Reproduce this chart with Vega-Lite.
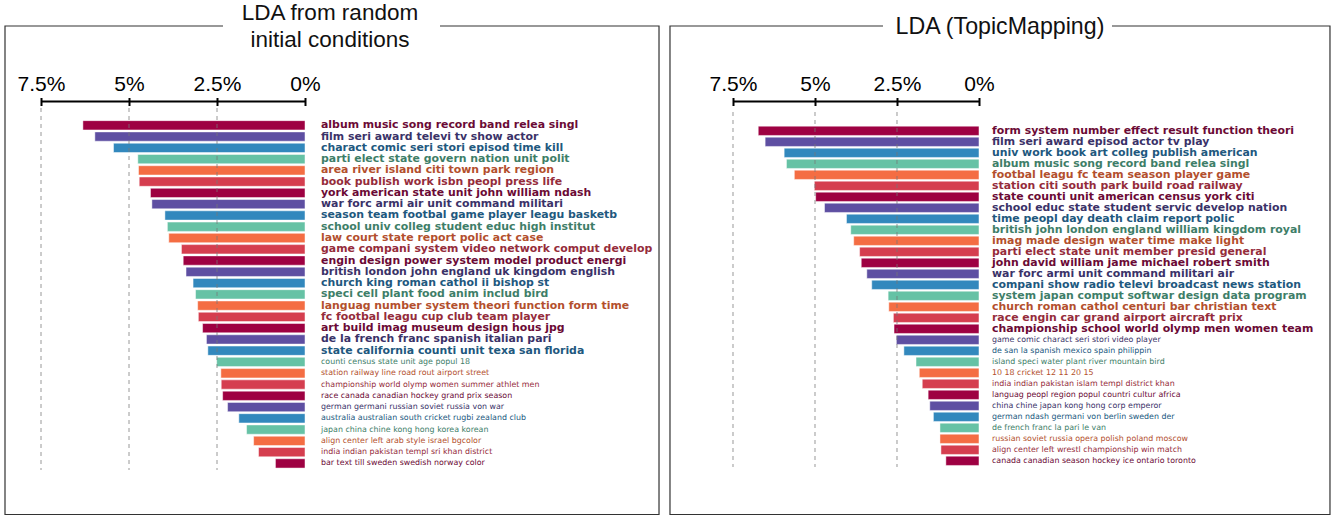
{
  "$schema": "https://vega.github.io/schema/vega-lite/v6.json",
  "padding": 0,
  "autosize": {"type": "pad"},
  "background": "white",
  "spacing": 0,
  "config": {"view": {"stroke": null}, "font": "DejaVu Sans", "scale": {"continuousPadding": 0}},
  "datasets": {
    "left": [
      {"rank": 1, "label": "album music song record band relea singl", "share": 6.31},
      {"rank": 2, "label": "film seri award televi tv show actor", "share": 5.97},
      {"rank": 3, "label": "charact comic seri stori episod time kill", "share": 5.44},
      {"rank": 4, "label": "parti elect state govern nation unit polit", "share": 4.75},
      {"rank": 5, "label": "area river island citi town park region", "share": 4.73},
      {"rank": 6, "label": "book publish work isbn peopl press life", "share": 4.71},
      {"rank": 7, "label": "york american state unit john william ndash", "share": 4.39},
      {"rank": 8, "label": "war forc armi air unit command militari", "share": 4.35},
      {"rank": 9, "label": "season team footbal game player leagu basketb", "share": 3.98},
      {"rank": 10, "label": "school univ colleg student educ high institut", "share": 3.91},
      {"rank": 11, "label": "law court state report polic act case", "share": 3.87},
      {"rank": 12, "label": "game compani system video network comput develop", "share": 3.51},
      {"rank": 13, "label": "engin design power system model product energi", "share": 3.46},
      {"rank": 14, "label": "british london john england uk kingdom english", "share": 3.38},
      {"rank": 15, "label": "church king roman cathol ii bishop st", "share": 3.18},
      {"rank": 16, "label": "speci cell plant food anim includ bird", "share": 3.11},
      {"rank": 17, "label": "languag number system theori function form time", "share": 3.05},
      {"rank": 18, "label": "fc footbal leagu cup club team player", "share": 3.03},
      {"rank": 19, "label": "art build imag museum design hous jpg", "share": 2.91},
      {"rank": 20, "label": "de la french franc spanish italian pari", "share": 2.80},
      {"rank": 21, "label": "state california counti unit texa san florida", "share": 2.76},
      {"rank": 22, "label": "counti census state unit age popul 18", "share": 2.51},
      {"rank": 23, "label": "station railway line road rout airport street", "share": 2.39},
      {"rank": 24, "label": "championship world olymp women summer athlet men", "share": 2.38},
      {"rank": 25, "label": "race canada canadian hockey grand prix season", "share": 2.34},
      {"rank": 26, "label": "german germani russian soviet russia von war", "share": 2.20},
      {"rank": 27, "label": "australia australian south cricket rugbi zealand club", "share": 1.88},
      {"rank": 28, "label": "japan china chine kong hong korea korean", "share": 1.66},
      {"rank": 29, "label": "align center left arab style israel bgcolor", "share": 1.46},
      {"rank": 30, "label": "india indian pakistan templ sri khan district", "share": 1.32},
      {"rank": 31, "label": "bar text till sweden swedish norway color", "share": 0.84}
    ],
    "right": [
      {"rank": 1, "label": "form system number effect result function theori", "share": 6.73},
      {"rank": 2, "label": "film seri award episod actor tv play", "share": 6.52},
      {"rank": 3, "label": "univ work book art colleg publish american", "share": 5.94},
      {"rank": 4, "label": "album music song record band relea singl", "share": 5.87},
      {"rank": 5, "label": "footbal leagu fc team season player game", "share": 5.63},
      {"rank": 6, "label": "station citi south park build road railway", "share": 5.02},
      {"rank": 7, "label": "state counti unit american census york citi", "share": 4.98},
      {"rank": 8, "label": "school educ state student servic develop nation", "share": 4.71},
      {"rank": 9, "label": "time peopl day death claim report polic", "share": 4.04},
      {"rank": 10, "label": "british john london england william kingdom royal", "share": 3.91},
      {"rank": 11, "label": "imag made design water time make light", "share": 3.82},
      {"rank": 12, "label": "parti elect state unit member presid general", "share": 3.64},
      {"rank": 13, "label": "john david william jame michael robert smith", "share": 3.59},
      {"rank": 14, "label": "war forc armi unit command militari air", "share": 3.42},
      {"rank": 15, "label": "compani show radio televi broadcast news station", "share": 3.27},
      {"rank": 16, "label": "system japan comput softwar design data program", "share": 2.77},
      {"rank": 17, "label": "church roman cathol centuri bar christian text", "share": 2.75},
      {"rank": 18, "label": "race engin car grand airport aircraft prix", "share": 2.61},
      {"rank": 19, "label": "championship school world olymp men women team", "share": 2.59},
      {"rank": 20, "label": "game comic charact seri stori video player", "share": 2.52},
      {"rank": 21, "label": "de san la spanish mexico spain philippin", "share": 2.29},
      {"rank": 22, "label": "island speci water plant river mountain bird", "share": 1.92},
      {"rank": 23, "label": "10 18 cricket 12 11 20 15", "share": 1.82},
      {"rank": 24, "label": "india indian pakistan islam templ district khan", "share": 1.73},
      {"rank": 25, "label": "languag peopl region popul countri cultur africa", "share": 1.55},
      {"rank": 26, "label": "china chine japan kong hong corp emperor", "share": 1.50},
      {"rank": 27, "label": "german ndash germani von berlin sweden der", "share": 1.39},
      {"rank": 28, "label": "de french franc la pari le van", "share": 1.19},
      {"rank": 29, "label": "russian soviet russia opera polish poland moscow", "share": 1.19},
      {"rank": 30, "label": "align center left wrestl championship win match", "share": 1.16},
      {"rank": 31, "label": "canada canadian season hockey ice ontario toronto", "share": 1.01}
    ]
  },
  "hconcat": [
    {
      "width": 667,
      "height": 516,
      "data": {"name": "left"},
      "resolve": {"axis": {"x": "independent", "y": "independent"}},
      "layer": [
        {
          "data": {"values": [{"k": 1}]},
          "mark": {"type": "rect", "filled": false, "stroke": "#333333", "strokeWidth": 1.2},
          "encoding": {
            "x": {"datum": 8.523, "axis": null},
            "x2": {"datum": -10.057},
            "y": {"datum": -7.811, "axis": null},
            "y2": {"datum": 35.534}
          }
        },
        {
          "data": {"values": [{"k": 1}]},
          "mark": {"type": "rect", "fill": "white", "strokeWidth": 0},
          "encoding": {
            "x": {"datum": 2.33, "axis": null},
            "x2": {"datum": -3.835},
            "y": {"datum": -8.17, "axis": null},
            "y2": {"datum": -7.45}
          }
        },
        {
          "mark": {"type": "bar", "orient": "horizontal", "size": 9.3, "stroke": "white", "strokeWidth": 0.8, "strokeOpacity": 0.6},
          "encoding": {
            "x": {
              "field": "share", "type": "quantitative",
              "scale": {"domain": [-10.284, 8.665], "reverse": true, "nice": false, "zero": false},
              "axis": {
                "orient": "top", "offset": -105.5, "values": [0, 2.5, 5, 7.5],
                "labelExpr": "datum.value + '%'", "title": null, "domain": false, "grid": false,
                "tickSize": 8, "tickWidth": 2, "tickColor": "black",
                "labelFontSize": 21, "labelFont": "Liberation Sans", "labelColor": "black",
                "labelPadding": 7.5, "labelBaseline": "alphabetic", "labelFlush": false, "labelOverlap": false
              }
            },
            "x2": {"datum": 0},
            "y": {
              "field": "rank", "type": "quantitative",
              "scale": {"domain": [-10.118, 35.667], "reverse": true, "nice": false, "zero": false, "padding": 0},
              "axis": null
            },
            "color": {
              "field": "rank", "type": "ordinal", "legend": null,
              "scale": {
                "domain": [1,2,3,4,5,6,7,8,9,10,11,12,13,14,15,16,17,18,19,20,21,22,23,24,25,26,27,28,29,30,31],
                "range": ["#9e0142","#5e4fa2","#3288bd","#66c2a5","#f46d43","#d53e4f","#9e0142","#5e4fa2","#3288bd","#66c2a5","#f46d43","#d53e4f","#9e0142","#5e4fa2","#3288bd","#66c2a5","#f46d43","#d53e4f","#9e0142","#5e4fa2","#3288bd","#66c2a5","#f46d43","#d53e4f","#9e0142","#5e4fa2","#3288bd","#66c2a5","#f46d43","#d53e4f","#9e0142"]
              }
            }
          }
        },
        {
          "data": {"values": [{"g": 2.5}, {"g": 5}, {"g": 7.5}]},
          "mark": {"type": "rule", "strokeDash": [4, 4], "stroke": "#777777", "strokeOpacity": 0.5, "strokeWidth": 1.5},
          "encoding": {
            "x": {"field": "g", "type": "quantitative", "axis": null},
            "y": {"datum": -0.535, "axis": null},
            "y2": {"datum": 31.59}
          }
        },
        {
          "data": {"values": [{"k": 1}]},
          "mark": {"type": "rule", "stroke": "black", "strokeWidth": 2},
          "encoding": {
            "x": {"datum": 7.5, "axis": null},
            "x2": {"datum": 0},
            "y": {"datum": -1.112, "axis": null}
          }
        },
        {
          "transform": [{"filter": "datum.rank <= 21"}],
          "mark": {"type": "text", "align": "left", "baseline": "middle", "dx": 16, "fontSize": 10.9, "fontWeight": "bold", "font": "DejaVu Sans"},
          "encoding": {
            "x": {"datum": 0, "axis": null},
            "y": {"field": "rank", "type": "quantitative", "axis": null},
            "text": {"field": "label"},
            "fill": {
              "field": "rank", "type": "ordinal", "legend": null,
              "scale": {
                "domain": [1,2,3,4,5,6,7,8,9,10,11,12,13,14,15,16,17,18,19,20,21,22,23,24,25,26,27,28,29,30,31],
                "range": ["#6b0a35","#3a3268","#21587e","#3e7e68","#b34f2d","#952c3b","#6b0a35","#3a3268","#21587e","#3e7e68","#b34f2d","#952c3b","#6b0a35","#3a3268","#21587e","#3e7e68","#b34f2d","#952c3b","#6b0a35","#3a3268","#21587e","#3e7e68","#b34f2d","#952c3b","#6b0a35","#3a3268","#21587e","#3e7e68","#b34f2d","#952c3b","#6b0a35"]
              }
            }
          }
        },
        {
          "transform": [{"filter": "datum.rank > 21"}],
          "mark": {"type": "text", "align": "left", "baseline": "middle", "dx": 16, "fontSize": 7.9, "font": "DejaVu Sans"},
          "encoding": {
            "x": {"datum": 0, "axis": null},
            "y": {"field": "rank", "type": "quantitative", "axis": null},
            "text": {"field": "label"},
            "fill": {"field": "rank", "type": "ordinal", "legend": null}
          }
        },
        {
          "data": {"values": [{"t": "LDA from random"}, {"t": "initial conditions"}]},
          "mark": {"type": "text", "align": "center", "baseline": "middle", "fontSize": 22.5, "font": "Liberation Sans", "fill": "#111111", "dy": -13.5},
          "transform": [{"filter": "datum.t == 'LDA from random'"}],
          "encoding": {
            "x": {"datum": -0.71, "axis": null},
            "y": {"datum": -7.767, "axis": null},
            "text": {"field": "t"}
          }
        },
        {
          "data": {"values": [{"t": "LDA from random"}, {"t": "initial conditions"}]},
          "mark": {"type": "text", "align": "center", "baseline": "middle", "fontSize": 22.5, "font": "Liberation Sans", "fill": "#111111", "dy": 13.5},
          "transform": [{"filter": "datum.t == 'initial conditions'"}],
          "encoding": {
            "x": {"datum": -0.71, "axis": null},
            "y": {"datum": -7.767, "axis": null},
            "text": {"field": "t"}
          }
        }
      ]
    },
    {
      "width": 668,
      "height": 516,
      "data": {"name": "right"},
      "resolve": {"axis": {"x": "independent", "y": "independent"}},
      "layer": [
        {
          "data": {"values": [{"k": 1}]},
          "mark": {"type": "rect", "filled": false, "stroke": "#333333", "strokeWidth": 1.2},
          "encoding": {
            "x": {"datum": 9.421, "axis": null},
            "x2": {"datum": -10.701},
            "y": {"datum": -8.527, "axis": null},
            "y2": {"datum": 35.882}
          }
        },
        {
          "data": {"values": [{"k": 1}]},
          "mark": {"type": "rect", "fill": "white", "strokeWidth": 0},
          "encoding": {
            "x": {"datum": 2.927, "axis": null},
            "x2": {"datum": -4.055},
            "y": {"datum": -8.89, "axis": null},
            "y2": {"datum": -8.16}
          }
        },
        {
          "mark": {"type": "bar", "orient": "horizontal", "size": 9.3, "stroke": "white", "strokeWidth": 0.8, "strokeOpacity": 0.6},
          "encoding": {
            "x": {
              "field": "share", "type": "quantitative",
              "scale": {"domain": [-10.854, 9.512], "reverse": true, "nice": false, "zero": false},
              "axis": {
                "orient": "top", "offset": -105.5, "values": [0, 2.5, 5, 7.5],
                "labelExpr": "datum.value + '%'", "title": null, "domain": false, "grid": false,
                "tickSize": 8, "tickWidth": 2, "tickColor": "black",
                "labelFontSize": 21, "labelFont": "Liberation Sans", "labelColor": "black",
                "labelPadding": 7.5, "labelBaseline": "alphabetic", "labelFlush": false, "labelOverlap": false
              }
            },
            "x2": {"datum": 0},
            "y": {
              "field": "rank", "type": "quantitative",
              "scale": {"domain": [-10.891, 36.018], "reverse": true, "nice": false, "zero": false, "padding": 0},
              "axis": null
            },
            "color": {"field": "rank", "type": "ordinal", "legend": null}
          }
        },
        {
          "data": {"values": [{"g": 2.5}, {"g": 5}, {"g": 7.5}]},
          "mark": {"type": "rule", "strokeDash": [4, 4], "stroke": "#777777", "strokeOpacity": 0.5, "strokeWidth": 1.5},
          "encoding": {
            "x": {"field": "g", "type": "quantitative", "axis": null},
            "y": {"datum": -0.71, "axis": null},
            "y2": {"datum": 31.56}
          }
        },
        {
          "data": {"values": [{"k": 1}]},
          "mark": {"type": "rule", "stroke": "black", "strokeWidth": 2},
          "encoding": {
            "x": {"datum": 7.5, "axis": null},
            "x2": {"datum": 0},
            "y": {"datum": -1.664, "axis": null}
          }
        },
        {
          "transform": [{"filter": "datum.rank <= 19"}],
          "mark": {"type": "text", "align": "left", "baseline": "middle", "dx": 13, "fontSize": 10.9, "fontWeight": "bold", "font": "DejaVu Sans"},
          "encoding": {
            "x": {"datum": 0, "axis": null},
            "y": {"field": "rank", "type": "quantitative", "axis": null},
            "text": {"field": "label"},
            "fill": {"field": "rank", "type": "ordinal", "legend": null}
          }
        },
        {
          "transform": [{"filter": "datum.rank > 19"}],
          "mark": {"type": "text", "align": "left", "baseline": "middle", "dx": 13, "fontSize": 7.9, "font": "DejaVu Sans"},
          "encoding": {
            "x": {"datum": 0, "axis": null},
            "y": {"field": "rank", "type": "quantitative", "axis": null},
            "text": {"field": "label"},
            "fill": {"field": "rank", "type": "ordinal", "legend": null}
          }
        },
        {
          "data": {"values": [{"t": "LDA (TopicMapping)"}]},
          "mark": {"type": "text", "align": "center", "baseline": "middle", "fontSize": 23.2, "font": "Liberation Sans", "fill": "#111111"},
          "encoding": {
            "x": {"datum": -0.64, "axis": null},
            "y": {"datum": -8.436, "axis": null},
            "text": {"field": "t"}
          }
        }
      ]
    }
  ],
  "resolve": {"scale": {"color": "shared", "fill": "shared"}}
}
